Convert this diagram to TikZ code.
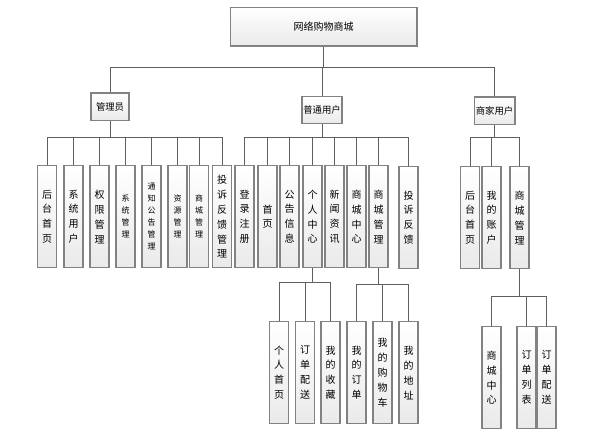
\documentclass[tikz,border=0pt]{standalone}
\usepackage{fontspec}
\newfontfamily\cjk{Noto Sans CJK SC}
\definecolor{boxline}{RGB}{130,130,130}
\definecolor{boxfill}{RGB}{234,234,234}
\definecolor{wirecol}{RGB}{95,95,95}

\begin{document}
\begin{tikzpicture}[x=0.75pt,y=-0.75pt,
	box/.style={draw=boxline, line width=1pt, top color=white, bottom color=boxfill,
		inner sep=0pt, align=center, font=\cjk\fontsize{7.5}{11.2}\selectfont},
	head/.style={box, font=\cjk\fontsize{7}{8}\selectfont, minimum height=20.5pt},
	leaf/.style={box, anchor=north, minimum width=14.2pt, minimum height=76.5pt},
	smalltext/.style={font=\cjk\fontsize{6}{9}\selectfont},
	wire/.style={draw=wirecol, line width=0.65pt}]

	\useasboundingbox (0,0) rectangle (599,432);

	% bus heights
	\coordinate (bus0) at (0,67);
	\coordinate (bus1) at (0,137);
	\coordinate (bus2) at (0,282);
	\coordinate (bus3) at (0,284);
	\coordinate (bus4) at (0,296);

	% Root and the three user kinds
	\node[box, minimum width=140pt, minimum height=29pt] (root) at (323.5,26.5) {网络购物商城};
	\node[head, minimum width=28.5pt] (admin)  at (110,106.5) {管理员};
	\node[head, minimum width=30pt]   (user)   at (322,110)   {普通用户};
	\node[head, minimum width=30.5pt] (seller) at (494.5,110.5) {商家用户};

	% Admin row
	\node[leaf] (a1) at (47,165)    {后\\台\\首\\页};
	\node[leaf] (a2) at (73.5,165)  {系\\统\\用\\户};
	\node[leaf] (a3) at (99.5,165)  {权\\限\\管\\理};
	\node[leaf, smalltext] (a4) at (125.5,165) {系\\统\\管\\理};
	\node[leaf, smalltext] (a5) at (151.5,165) {通\\知\\公\\告\\管\\理};
	\node[leaf, smalltext] (a6) at (177.5,165) {资\\源\\管\\理};
	\node[leaf, smalltext] (a7) at (199,165)   {商\\城\\管\\理};
	\node[leaf] (a8) at (222,165)   {投\\诉\\反\\馈\\管\\理};

	% User row
	\node[leaf] (u1) at (244.5,165) {登\\录\\注\\册};
	\node[leaf] (u2) at (267.5,165) {首\\页};
	\node[leaf] (u3) at (289.5,165) {公\\告\\信\\息};
	\node[leaf] (u4) at (312.5,165) {个\\人\\中\\心};
	\node[leaf] (u5) at (334.5,165) {新\\闻\\资\\讯};
	\node[leaf] (u6) at (356.5,165) {商\\城\\中\\心};
	\node[leaf] (u7) at (378.5,165) {商\\城\\管\\理};
	\node[leaf] (u8) at (408.5,166) {投\\诉\\反\\馈};

	% Seller row
	\node[leaf] (s1) at (470,166)   {后\\台\\首\\页};
	\node[leaf] (s2) at (491.5,166) {我\\的\\账\\户};
	\node[leaf] (s3) at (519.5,166) {商\\城\\管\\理};

	% Third level
	\node[leaf] (p1) at (279,321)   {个\\人\\首\\页};
	\node[leaf] (p2) at (305,321)   {订\\单\\配\\送};
	\node[leaf] (p3) at (330.5,321) {我\\的\\收\\藏};
	\node[leaf] (m1) at (356.5,321) {我\\的\\订\\单};
	\node[leaf] (m2) at (382.5,321) {我\\的\\购\\物\\车};
	\node[leaf] (m3) at (408.5,321) {我\\的\\地\\址};
	\node[leaf] (k1) at (491.5,326) {商\\城\\中\\心};
	\node[leaf] (k2) at (526.5,326) {订\\单\\列\\表};
	\node[leaf] (k3) at (546.5,326) {订\\单\\配\\送};

	% Connectors
	\draw[wire] (root.south) -- (root.south |- bus0) -| (admin.north)
		(root.south |- bus0) -| (user.north)
		(root.south |- bus0) -| (seller.north);
	\draw[wire] (admin.south) -- (admin.south |- bus1) -| (a1.north)
		(admin.south |- bus1) -| (a2.north) (admin.south |- bus1) -| (a3.north)
		(admin.south |- bus1) -| (a4.north) (admin.south |- bus1) -| (a5.north)
		(admin.south |- bus1) -| (a6.north) (admin.south |- bus1) -| (a7.north)
		(admin.south |- bus1) -| (a8.north);
	\draw[wire] (user.south) -- (user.south |- bus1) -| (u1.north)
		(user.south |- bus1) -| (u2.north) (user.south |- bus1) -| (u3.north)
		(user.south |- bus1) -| (u4.north) (user.south |- bus1) -| (u5.north)
		(user.south |- bus1) -| (u6.north) (user.south |- bus1) -| (u7.north)
		(user.south |- bus1) -| (u8.north);
	\draw[wire] (seller.south) -- (seller.south |- bus1) -| (s1.north)
		(seller.south |- bus1) -| (s2.north) (seller.south |- bus1) -| (s3.north);
	\draw[wire] (u4.south) -- (u4.south |- bus2) -| (p1.north)
		(u4.south |- bus2) -| (p2.north) (u4.south |- bus2) -| (p3.north);
	\draw[wire] (u7.south) -- (u7.south |- bus3) -| (m1.north)
		(u7.south |- bus3) -| (m2.north) (u7.south |- bus3) -| (m3.north);
	\draw[wire] (s3.south) -- (s3.south |- bus4) -| (k1.north)
		(s3.south |- bus4) -| (k2.north) (s3.south |- bus4) -| (k3.north);

\end{tikzpicture}
\end{document}
